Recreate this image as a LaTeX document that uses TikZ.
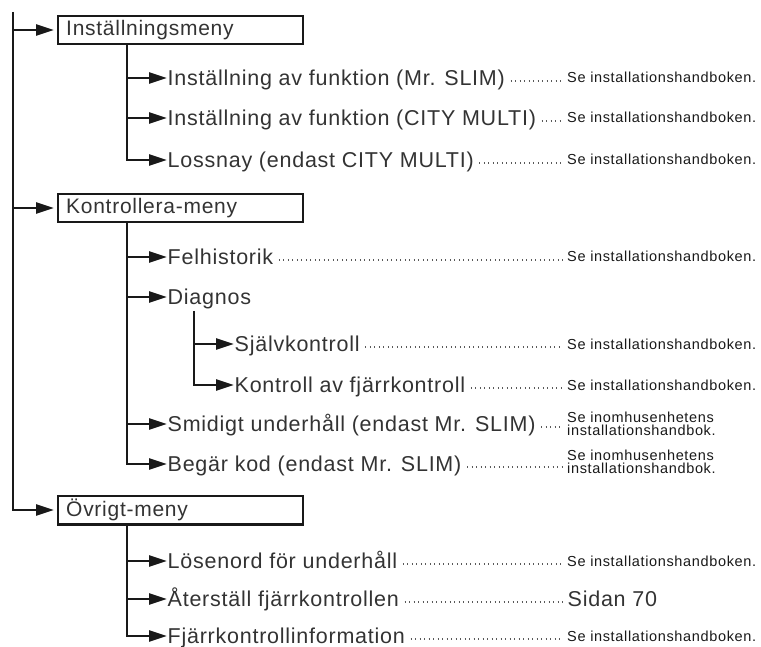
\documentclass[tikz,border=0pt]{standalone}
\usepackage{fontspec}
\setmainfont[LetterSpace=3.5]{Liberation Sans}
\newfontfamily\notefont[LetterSpace=4.5]{Liberation Sans}
\usetikzlibrary{arrows.meta}
\begin{document}
\begin{tikzpicture}[x=1pt,y=-1pt,
  line/.style={line width=2.4pt, draw=black!90},
  conn/.style={line, -{Triangle[length=18pt,width=11pt]}},
  menubox/.style={draw=black!90, line width=2.4pt, anchor=west, minimum height=28pt,
    text width=229pt, inner xsep=8pt, align=left, text=black!80,
    font=\fontsize{21}{24}\selectfont},
  item/.style={anchor=west, inner xsep=0.5pt, inner ysep=0pt, text height=15pt, text depth=0pt,
    text=black!80, font=\fontsize{21.5}{24}\selectfont},
  note/.style={anchor=west, inner sep=0pt, text height=10pt, text depth=0pt,
    text=black!90, font=\notefont\fontsize{14.5}{13}\selectfont},
  notetwo/.style={anchor=west, inner sep=0pt, align=left, text=black!90,
    font=\notefont\fontsize{14.5}{13}\selectfont},
  leader/.style={line width=1.1pt, dash pattern=on 1pt off 3.5pt, draw=black!65}
]
\useasboundingbox (0,0) rectangle (761,647);
\newcommand\leaderline[1]{\draw[leader] ([xshift=5pt,yshift=-3pt]#1.east) -- ([yshift=-3pt]#1.east -| rc);}

\coordinate (rc) at (563,0);
\coordinate (root) at (13,12);

% menu boxes
\node[menubox] (m1) at (57,30) {Inställningsmeny};
\node[menubox] (m2) at (57,208) {Kontrollera-meny};
\node[menubox] (m3) at (57,510) {Övrigt-meny};

\draw[conn] (root) |- ([xshift=-3pt]m3.west);
\draw[conn] (root |- m1.west) -- ([xshift=-3pt]m1.west);
\draw[conn] (root |- m2.west) -- ([xshift=-3pt]m2.west);

% items of menu 1
\node[item] (i1) at (167,78) {Inställning av funktion (Mr. SLIM)};
\node[item] (i2) at (167,118) {Inställning av funktion (CITY MULTI)};
\node[item] (i3) at (167,160) {Lossnay (endast CITY MULTI)};
\coordinate (s1) at ([xshift=70pt]m1.south west);
\draw[conn] (s1) |- (i3.west);
\draw[conn] (s1 |- i1.west) -- (i1.west);
\draw[conn] (s1 |- i2.west) -- (i2.west);

% items of menu 2
\node[item] (k1) at (167,257) {Felhistorik};
\node[item] (k2) at (167,297) {Diagnos};
\node[item] (d1) at (234,344) {Självkontroll};
\node[item] (d2) at (234,385) {Kontroll av fjärrkontroll};
\node[item] (k3) at (167,424) {Smidigt underhåll (endast Mr. SLIM)};
\node[item] (k4) at (167,464) {Begär kod (endast Mr. SLIM)};
\coordinate (s2) at ([xshift=70pt]m2.south west);
\draw[conn] (s2) |- (k4.west);
\draw[conn] (s2 |- k1.west) -- (k1.west);
\draw[conn] (s2 |- k2.west) -- (k2.west);
\draw[conn] (s2 |- k3.west) -- (k3.west);
\coordinate (s3) at (194,311);
\draw[conn] (s3) |- (d2.west);
\draw[conn] (s3 |- d1.west) -- (d1.west);

% items of menu 3
\node[item] (o1) at (167,561) {Lösenord för underhåll};
\node[item] (o2) at (167,599) {Återställ fjärrkontrollen};
\node[item] (o3) at (167,636) {Fjärrkontrollinformation};
\coordinate (s4) at ([xshift=70pt]m3.south west);
\draw[conn] (s4) |- (o3.west);
\draw[conn] (s4 |- o1.west) -- (o1.west);
\draw[conn] (s4 |- o2.west) -- (o2.west);

% leaders
\leaderline{i1}\leaderline{i2}\leaderline{i3}
\leaderline{k1}\leaderline{d1}\leaderline{d2}\leaderline{k3}\leaderline{k4}
\leaderline{o1}\leaderline{o2}\leaderline{o3}

% notes
\node[note] (n1) at (567,78) {Se installationshandboken.};
\node[note] (n2) at (567,118) {Se installationshandboken.};
\node[note] (n3) at (567,160) {Se installationshandboken.};
\node[note] (n4) at (567,257) {Se installationshandboken.};
\node[note] (n5) at (567,344) {Se installationshandboken.};
\node[note] (n6) at (567,385) {Se installationshandboken.};
\node[notetwo] (n7) at (567,424) {Se inomhusenhetens\\installationshandbok.};
\node[notetwo] (n8) at (567,462) {Se inomhusenhetens\\installationshandbok.};
\node[note] (n9) at (567,561) {Se installationshandboken.};
\node[item] (n10) at (567,599) {Sidan 70};
\node[note] (n11) at (567,636) {Se installationshandboken.};
\end{tikzpicture}
\end{document}
